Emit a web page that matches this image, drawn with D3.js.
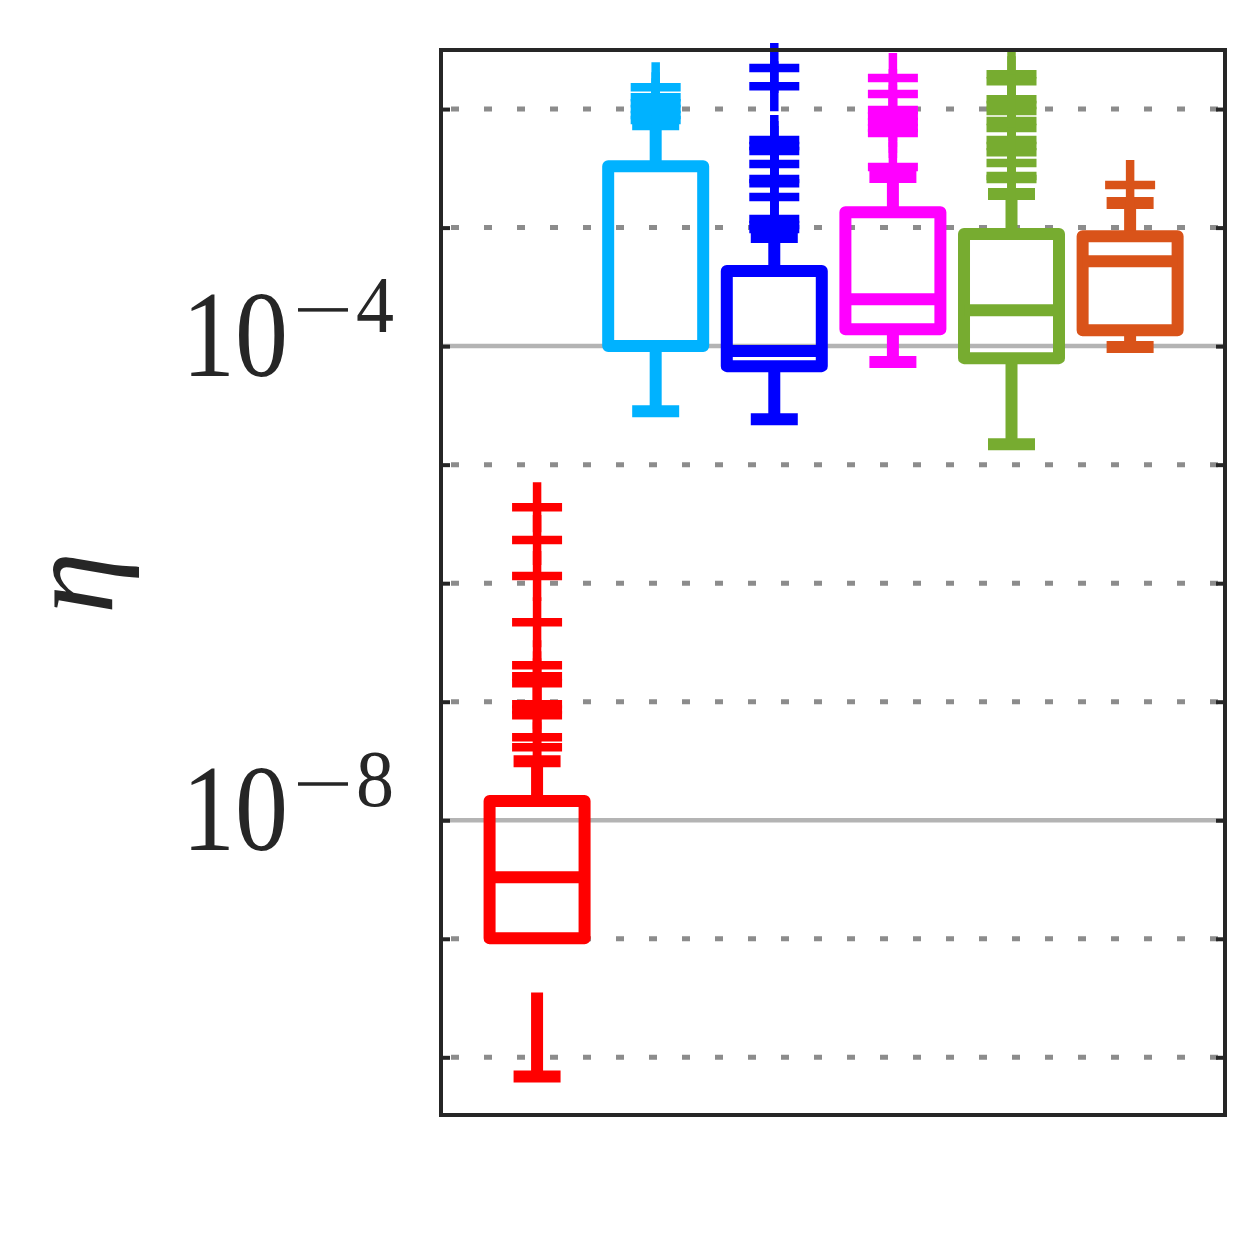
<!DOCTYPE html>
<html><head><meta charset="utf-8">
<script src="https://cdn.jsdelivr.net/npm/d3@7"></script>
<style>body{margin:0;background:#fff}</style>
</head><body>
<svg id="chart" width="1250" height="1250"></svg>
<script>
// ---- data ----
const categories = [1, 2, 3, 4, 5, 6];
const colors = ["#FF0000", "#00B2FF", "#0000FF", "#FF00FF", "#77AC30", "#D95319"];
const q1Values     = [1.01e-9, 1.00e-4, 6.78e-5, 1.39e-4, 7.92e-5, 1.36e-4];
const medianValues = [3.30e-9, 1.00e-4, 9.08e-5, 2.49e-4, 2.01e-4, 5.21e-4];
const q3Values     = [1.45e-8, 3.30e-3, 4.30e-4, 1.35e-3, 8.81e-4, 8.47e-4];
const lowerWhisker = [6.9e-11, 2.82e-5, 2.42e-5, 7.33e-5, 1.49e-5, 9.81e-5];
const upperWhisker = [3.15e-8, 7.46e-3, 8.32e-4, 2.67e-3, 1.92e-3, 1.61e-3];
const outliers1 = [4.38e-6, 2.31e-6, 1.15e-6, 4.69e-7, 2.03e-7, 1.64e-7, 1.43e-7, 9.53e-8, 8.6e-8, 7.69e-8, 5.01e-8, 4.13e-8];
const outliers2 = [1.53e-2, 1.26e-2, 1.12e-2, 1.00e-2, 8.90e-3, 8.07e-3];
const outliers3 = [2.22e-2, 1.56e-2, 5.47e-3, 4.87e-3, 4.42e-3, 3.44e-3, 2.57e-3, 2.37e-3, 1.81e-3, 1.18e-3, 1.05e-3, 9.71e-4];
const outliers4 = [1.83e-2, 1.34e-2, 9.82e-3, 8.74e-3, 7.76e-3, 6.92e-3, 6.27e-3, 3.24e-3];
const outliers5 = [1.97e-2, 1.72e-2, 1.21e-2, 1.08e-2, 9.62e-3, 7.92e-3, 6.92e-3, 5.47e-3, 4.87e-3, 4.33e-3, 3.50e-3, 2.72e-3, 2.57e-3];
const outliers6 = [2.29e-3];
const outlierSets = [outliers1, outliers2, outliers3, outliers4, outliers5, outliers6];
const gridValues = [1e-2, 1e-3, 1e-4, 1e-5, 1e-6, 1e-7, 1e-8, 1e-9, 1e-10];
const majorGrid = [1e-4, 1e-8];
const labelValues = [1e-4, 1e-8];
const labelExponents = ["4", "8"];
const yLabel = "\u03B7";

// ---- layout ----
const L = 441, R = 1225, T = 50, B = 1115;
const svg = d3.select("#chart");
const x = d3.scaleLinear().domain([0.19, 6.80]).range([L, R]);
const y = d3.scaleLog().domain([3.26e-11, 3.15e-2]).range([B, T]);
const axisColor = "#262626";

// grid
const grid = svg.append("g");
gridValues.forEach(v => {
  const major = majorGrid.includes(v);
  grid.append("line")
    .attr("x1", L).attr("x2", R).attr("y1", y(v)).attr("y2", y(v))
    .attr("stroke", major ? "#b4b4b4" : "#8c8c8c")
    .attr("stroke-width", major ? 4.5 : 5)
    .attr("stroke-dasharray", major ? null : "8,25")
    .attr("stroke-dashoffset", major ? null : 23);
});

// boxes
const boxHalf = 47.5, capHalf = 23.5, plusHalf = 25;
categories.forEach((c, i) => {
  const g = svg.append("g").attr("stroke", colors[i]).attr("fill", "none");
  const cx = x(c);
  // whiskers (dashed, drawn from adjacent value toward the box)
  g.append("path").attr("d", `M${cx},${y(upperWhisker[i])}L${cx},${y(q3Values[i])}`)
    .attr("stroke-width", 12).attr("stroke-dasharray", "84,50");
  g.append("path").attr("d", `M${cx},${y(lowerWhisker[i])}L${cx},${y(q1Values[i])}`)
    .attr("stroke-width", 12).attr("stroke-dasharray", "84,50");
  // caps
  [upperWhisker[i], lowerWhisker[i]].forEach(v => {
    g.append("line").attr("x1", cx - capHalf).attr("x2", cx + capHalf)
      .attr("y1", y(v)).attr("y2", y(v)).attr("stroke-width", 12);
  });
  // box
  g.append("rect").attr("x", cx - boxHalf).attr("width", 2 * boxHalf)
    .attr("y", y(q3Values[i])).attr("height", y(q1Values[i]) - y(q3Values[i]))
    .attr("stroke-width", 12).attr("stroke-linejoin", "round");
  // median
  g.append("line").attr("x1", cx - boxHalf).attr("x2", cx + boxHalf)
    .attr("y1", y(medianValues[i])).attr("y2", y(medianValues[i])).attr("stroke-width", 12);
  // outliers as '+'
  g.selectAll("path.out").data(outlierSets[i]).enter().append("path").attr("class", "out")
    .attr("d", v => `M${cx - plusHalf},${y(v)}H${cx + plusHalf}M${cx},${y(v) - plusHalf}V${y(v) + plusHalf}`)
    .attr("stroke-width", 8.5);
});

// axes ticks
const axL = svg.append("g").attr("transform", `translate(${L},0)`)
  .call(d3.axisLeft(y).tickValues(gridValues).tickSizeInner(-9).tickSizeOuter(0).tickFormat(""));
const axR = svg.append("g").attr("transform", `translate(${R},0)`)
  .call(d3.axisRight(y).tickValues(gridValues).tickSizeInner(-9).tickSizeOuter(0).tickFormat(""));
[axL, axR].forEach(a => {
  a.select(".domain").remove();
  a.selectAll(".tick line").attr("stroke", axisColor).attr("stroke-width", 4);
});
// frame
svg.append("rect").attr("x", L).attr("y", T).attr("width", R - L).attr("height", B - T)
  .attr("fill", "none").attr("stroke", axisColor).attr("stroke-width", 4);

// tick labels
const font = "'Liberation Serif', serif";
labelValues.forEach((v, i) => {
  const ty = y(v);
  svg.append("text").attr("x", 182).attr("y", ty + 30)
    .attr("font-family", font).attr("font-size", 122)
    .attr("fill", axisColor).attr("textLength", 106).attr("lengthAdjust", "spacingAndGlyphs")
    .text("10");
  // superscript minus sign
  svg.append("rect").attr("x", 298).attr("y", ty - 38).attr("width", 50).attr("height", 3.5)
    .attr("fill", axisColor);
  svg.append("text").attr("x", 356).attr("y", ty - 14)
    .attr("font-family", font).attr("font-size", 80)
    .attr("fill", axisColor).attr("textLength", 38).attr("lengthAdjust", "spacingAndGlyphs")
    .text(labelExponents[i]);
});

// y label
svg.append("text").attr("transform", "translate(112,583) rotate(-90)")
  .attr("text-anchor", "middle")
  .attr("font-family", font).attr("font-style", "italic")
  .attr("font-size", 125).attr("fill", axisColor).text(yLabel);
</script></body></html>
